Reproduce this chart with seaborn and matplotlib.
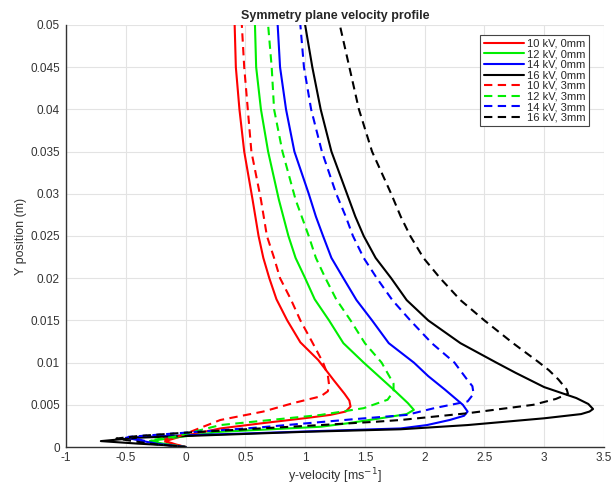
import numpy as np
import pandas as pd
import matplotlib
matplotlib.use('Agg')
import matplotlib.pyplot as plt
import seaborn as sns

# velocity profiles, listed from the wall (y=0) upwards
red_0_v = [0, -0.08, -0.17, -0.05, 0.29, 0.63, 0.99, 1.21, 1.34, 1.38, 1.37, 1.33, 1.24, 1.11, 0.96, 0.85, 0.76, 0.70, 0.65, 0.61, 0.56, 0.49, 0.45, 0.42, 0.41]
red_0_y = [0, 0.0003, 0.0007, 0.0012, 0.0022, 0.0028, 0.0034, 0.0038, 0.0042, 0.0048, 0.0055, 0.0063, 0.0079, 0.0103, 0.0124, 0.015, 0.0175, 0.02, 0.0224, 0.025, 0.0293, 0.035, 0.04, 0.045, 0.05]

green_0_v = [0, -0.15, -0.3, -0.1, 0.29, 1.13, 1.35, 1.63, 1.85, 1.91, 1.86, 1.80, 1.74, 1.49, 1.32, 1.20, 1.08, 1.00, 0.92, 0.86, 0.78, 0.69, 0.63, 0.59, 0.58]
green_0_y = [0, 0.0003, 0.0007, 0.0011, 0.0018, 0.0024, 0.0028, 0.0034, 0.0039, 0.0044, 0.0052, 0.0060, 0.0068, 0.0100, 0.0123, 0.015, 0.0175, 0.02, 0.0224, 0.025, 0.0293, 0.035, 0.04, 0.045, 0.05]

blue_0_v = [0, -0.25, -0.5, -0.2, 0.5, 1.13, 1.80, 2.02, 2.21, 2.33, 2.36, 2.32, 2.17, 2.03, 1.91, 1.70, 1.56, 1.43, 1.32, 1.22, 1.15, 1.09, 1.03, 0.91, 0.84, 0.79, 0.77]
blue_0_y = [0, 0.0004, 0.0011, 0.0013, 0.0016, 0.0019, 0.0022, 0.0026, 0.0032, 0.0037, 0.0042, 0.0050, 0.0068, 0.0084, 0.0100, 0.0123, 0.015, 0.0174, 0.02, 0.0224, 0.025, 0.0273, 0.03, 0.035, 0.04, 0.045, 0.05]

black_0_v = [0, -0.15, -0.4, -0.71, -0.4, 0.0, 0.4, 1.0, 1.80, 2.36, 3.0, 3.31, 3.38, 3.41, 3.37, 3.27, 3.0, 2.76, 2.60, 2.30, 2.03, 1.85, 1.72, 1.59, 1.49, 1.42, 1.35, 1.22, 1.13, 1.06, 1.00]
black_0_y = [0, 0.0002, 0.0004, 0.0007, 0.0011, 0.0013, 0.0015, 0.0018, 0.0021, 0.0026, 0.0034, 0.0039, 0.0042, 0.0045, 0.0051, 0.0058, 0.0071, 0.0088, 0.0100, 0.0123, 0.015, 0.0174, 0.02, 0.0224, 0.025, 0.0273, 0.03, 0.035, 0.04, 0.045, 0.05]

red_3_v = [0, -0.1, -0.2, -0.05, 0.29, 0.65, 0.90, 1.13, 1.19, 1.20, 1.19, 1.15, 1.06, 0.96, 0.88, 0.79, 0.74, 0.68, 0.63, 0.55, 0.52, 0.49, 0.47]
red_3_y = [0, 0.0003, 0.0008, 0.0013, 0.0032, 0.0042, 0.0052, 0.0060, 0.0066, 0.0074, 0.0085, 0.0100, 0.0124, 0.015, 0.0175, 0.02, 0.0224, 0.025, 0.0293, 0.035, 0.04, 0.045, 0.05]

green_3_v = [0, -0.15, -0.3, -0.1, 0.29, 1.13, 1.49, 1.69, 1.74, 1.74, 1.64, 1.50, 1.38, 1.26, 1.17, 1.09, 1.03, 0.92, 0.81, 0.74, 0.72, 0.69]
green_3_y = [0, 0.0003, 0.0008, 0.0012, 0.0026, 0.0038, 0.0046, 0.0056, 0.0066, 0.0075, 0.0100, 0.0123, 0.015, 0.0175, 0.02, 0.0224, 0.025, 0.0293, 0.035, 0.04, 0.045, 0.05]

blue_3_v = [0, -0.25, -0.48, 0.0, 0.6, 1.41, 1.85, 2.08, 2.36, 2.41, 2.40, 2.35, 2.25, 2.06, 1.88, 1.73, 1.60, 1.49, 1.40, 1.34, 1.26, 1.14, 1.05, 0.99, 0.96]
blue_3_y = [0, 0.0004, 0.0012, 0.0017, 0.0023, 0.0033, 0.0038, 0.0046, 0.0054, 0.0063, 0.0072, 0.0081, 0.0100, 0.0123, 0.015, 0.0174, 0.02, 0.0224, 0.025, 0.0273, 0.03, 0.035, 0.04, 0.045, 0.05]

black_3_v = [0, -0.15, -0.3, -0.58, -0.4, 0.0, 0.5, 1.13, 1.60, 1.80, 2.36, 2.91, 3.10, 3.20, 3.19, 3.12, 3.04, 2.95, 2.74, 2.50, 2.30, 2.13, 1.99, 1.88, 1.80, 1.72, 1.56, 1.45, 1.37, 1.29]
black_3_y = [0, 0.0002, 0.0004, 0.0010, 0.0013, 0.0017, 0.0021, 0.0026, 0.0030, 0.0032, 0.0040, 0.0050, 0.0057, 0.0063, 0.0068, 0.0080, 0.0091, 0.0101, 0.0123, 0.015, 0.0174, 0.02, 0.0224, 0.025, 0.0273, 0.03, 0.035, 0.04, 0.045, 0.05]

voltages = ['10 kV', '12 kV', '14 kV', '16 kV']
colours = ['#ff0000', '#00ee00', '#0000ff', '#000000']
profiles_0mm = [(red_0_v, red_0_y), (green_0_v, green_0_y), (blue_0_v, blue_0_y), (black_0_v, black_0_y)]
profiles_3mm = [(red_3_v, red_3_y), (green_3_v, green_3_y), (blue_3_v, blue_3_y), (black_3_v, black_3_y)]

sns.set_style('whitegrid')
plt.rcParams['font.family'] = ['Liberation Sans', 'DejaVu Sans']

fig = plt.figure(figsize=(6.13, 4.88), dpi=100)
ax = fig.add_axes([0.108, 0.084, 0.877, 0.865])

for gap, profiles, ls in [('0mm', profiles_0mm, '-'), ('3mm', profiles_3mm, '--')]:
    for volt, col, (v, y) in zip(voltages, colours, profiles):
        sns.lineplot(x=v, y=y, sort=False, estimator=None, orient='y',
                     color=col, linewidth=1.5, label=f'{volt}, {gap}', ax=ax)
        ax.lines[-1].set_solid_joinstyle('round')
        if ls == '--':
            ax.lines[-1].set_dashes((4, 2.6))

ax.set_xlim(-1, 3.5)
ax.set_ylim(0, 0.05)
ax.set_xticks(np.arange(-1, 3.51, 0.5))
ax.set_xticklabels(['-1', '-0.5', '0', '0.5', '1', '1.5', '2', '2.5', '3', '3.5'])
ax.set_yticks(np.arange(0, 0.0501, 0.005))
ax.set_yticklabels(['0', '0.005', '0.01', '0.015', '0.02', '0.025', '0.03', '0.035', '0.04', '0.045', '0.05'])
ax.grid(True, color='#e3e3e3', linewidth=0.8)
for s in ['top', 'right']:
    ax.spines[s].set_visible(False)
for s in ['left', 'bottom']:
    ax.spines[s].set_color('#333333')
    ax.spines[s].set_linewidth(1.0)
ax.tick_params(axis='both', labelsize=8.5, colors='#333333', length=3, width=0.8, direction='in')
ax.tick_params(axis='y', direction='out', length=2.5, pad=2)

ax.set_title('Symmetry plane velocity profile', fontsize=9, fontweight='bold', pad=4)
ax.set_xlabel('y-velocity [ms$^{-1}$]', fontsize=9, color='#333333', labelpad=2)
ax.set_ylabel('Y position (m)', fontsize=9, color='#333333', labelpad=2)

leg = ax.legend(loc='upper right', bbox_to_anchor=(0.972, 0.975), fontsize=8, frameon=True,
                fancybox=False, handlelength=3.6, handletextpad=0.3, labelspacing=0.05,
                borderpad=0.3, borderaxespad=0.0)
leg.get_frame().set_edgecolor('#444444')
leg.get_frame().set_linewidth(0.8)
leg.get_frame().set_alpha(1)

fig.savefig('out.png', dpi=100)
